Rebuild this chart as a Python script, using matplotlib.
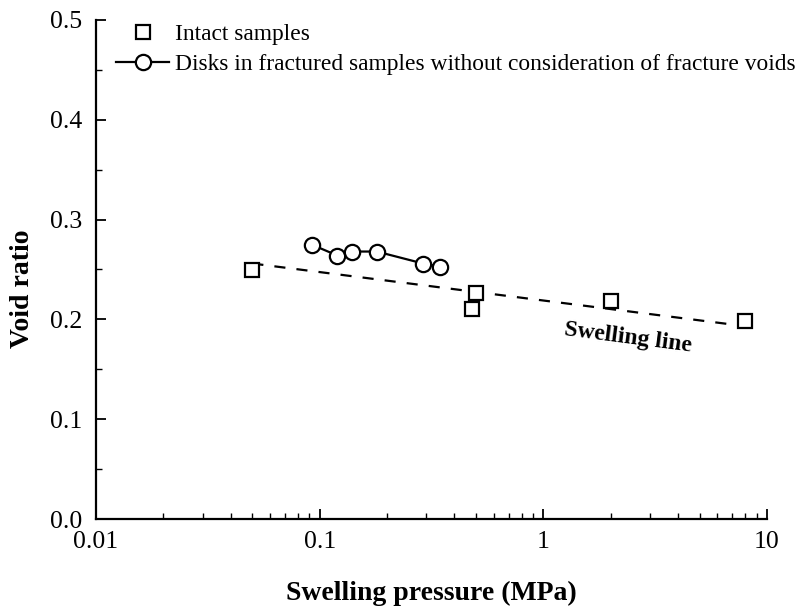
import matplotlib
matplotlib.use('Agg')
import matplotlib.pyplot as plt
from matplotlib.ticker import MultipleLocator, LogLocator, NullFormatter, FixedLocator, FixedFormatter

plt.rcParams['font.family'] = ['Liberation Serif', 'DejaVu Serif']

# intact samples
intact_p = [0.05, 0.48, 0.5, 2.0, 8.0]
intact_e = [0.25, 0.21, 0.226, 0.218, 0.198]

# disks in fractured samples
disk_p = [0.092, 0.12, 0.14, 0.18, 0.29, 0.345]
disk_e = [0.275, 0.264, 0.268, 0.268, 0.256, 0.253]

# swelling line
line_p = [0.05, 7.5]
line_e = [0.256, 0.194]

xticks = [0.01, 0.1, 1, 10]
xtick_labels = ['0.01', '0.1', '1', '10']

fig = plt.figure(figsize=(8.03, 6.10), dpi=100)
ax = fig.add_axes([96/803, 1 - 519/610, (767-96)/803, (519-20)/610])

ax.plot(line_p, line_e, color='black', lw=1.6, dashes=(5, 5))
ax.plot(intact_p, intact_e, 's', ms=9.5, mfc='white', mec='black', mew=1.6,
        ls='none', label='Intact samples', zorder=3)
ax.plot(disk_p, disk_e, 'o-', ms=11, mfc='white', mec='black', mew=1.6,
        color='black', lw=1.6,
        label='Disks in fractured samples without consideration of fracture voids', zorder=3)

ax.text(2.39, 0.182, 'Swelling line', rotation=-7.4, fontsize=17, fontweight='bold',
        ha='center', va='center', rotation_mode='anchor')

ax.set_xscale('log')
ax.set_xlim(0.01, 10)
ax.set_ylim(0, 0.5)
ax.xaxis.set_major_locator(FixedLocator(xticks))
ax.xaxis.set_major_formatter(FixedFormatter(xtick_labels))
ax.xaxis.set_minor_locator(LogLocator(base=10, subs=range(2, 10)))
ax.xaxis.set_minor_formatter(NullFormatter())
ax.yaxis.set_major_locator(MultipleLocator(0.1))
ax.yaxis.set_minor_locator(MultipleLocator(0.05))
ax.yaxis.set_major_formatter(matplotlib.ticker.FormatStrFormatter('%.1f'))

for s in ['top', 'right']:
    ax.spines[s].set_visible(False)
for s in ['left', 'bottom']:
    ax.spines[s].set_linewidth(1.6)

ax.tick_params(which='major', direction='in', length=7, width=1.3, labelsize=18.5)
ax.tick_params(axis='x', which='major', pad=9)
ax.tick_params(axis='y', which='major', pad=10)
ax.tick_params(which='minor', direction='in', length=4, width=1.0)

ax.set_xlabel('Swelling pressure (MPa)', fontsize=20, fontweight='bold', va='baseline')
ax.xaxis.set_label_coords(0.5, -0.162)
ax.set_ylabel('Void ratio', fontsize=20, fontweight='bold', va='center')
ax.yaxis.set_label_coords(-0.109, 0.461)

ax.legend(loc='upper left', bbox_to_anchor=(0.03, 0.992), frameon=False, fontsize=16.9,
          handlelength=2.25, handletextpad=0.25, labelspacing=0.36, borderpad=0,
          borderaxespad=0)

fig.savefig('out.png', dpi=100)
